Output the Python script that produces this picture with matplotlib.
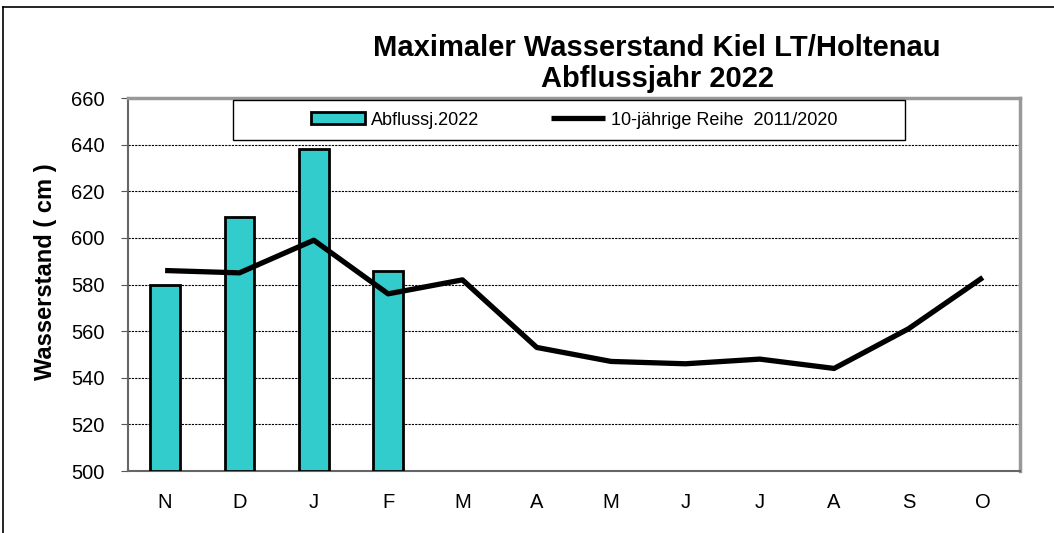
import matplotlib
matplotlib.use("Agg")
import matplotlib.pyplot as plt
from matplotlib.lines import Line2D
from matplotlib.patches import Rectangle
import numpy as np

plt.rcParams['font.family'] = ['Liberation Sans', 'DejaVu Sans']

months = ["N", "D", "J", "F", "M", "A", "M", "J", "J", "A", "S", "O"]
abfluss_2022 = [580, 609, 638, 586]
reihe_10j = [586, 585, 599, 576, 582, 553, 547, 546, 548, 544, 561, 583]
yticks = [500, 520, 540, 560, 580, 600, 620, 640, 660]

fig = plt.figure(figsize=(10.54, 5.33), dpi=100)
ax = fig.add_axes([0.1214, 0.1163, 0.8463, 0.6998])

x = np.arange(len(months))
bars = ax.bar(x[:len(abfluss_2022)], np.array(abfluss_2022) - 500, bottom=500, width=0.4,
              color="#33CCCC", edgecolor="black", linewidth=2, zorder=3)
line, = ax.plot(x, reihe_10j, color="black", linewidth=3.8, zorder=4,
                solid_capstyle="butt")

ax.set_xlim(-0.5, len(months) - 0.5)
ax.set_ylim(500, 660)
ax.set_yticks(yticks)
ax.set_xticks(x)
ax.set_xticklabels(months)
ax.tick_params(axis="both", labelsize=14.5, length=5, color="#555555")
ax.tick_params(axis="y", pad=12)
ax.tick_params(axis="x", length=0, pad=16)
ax.yaxis.grid(True, linestyle=(0, (2, 1)), color="black", linewidth=0.8, zorder=0)
for s in ["left", "bottom"]:
    ax.spines[s].set_color("#666666")
    ax.spines[s].set_linewidth(1.5)
for s in ["right", "top"]:
    ax.spines[s].set_color("#999999")
    ax.spines[s].set_linewidth(2.5)

ax.set_ylabel("Wasserstand ( cm )", fontsize=17, fontweight="bold")
ax.yaxis.set_label_coords(-0.08, 0.534)

fig.text(0.6235, 0.881, "Maximaler Wasserstand Kiel LT/Holtenau\nAbflussjahr 2022",
         ha="center", va="center", fontsize=21, fontweight="bold", linespacing=1.12)

# legend box
ax.add_patch(Rectangle((0.1177, 0.8874), 0.7534, 0.1072, transform=ax.transAxes,
                       facecolor="white", edgecolor="black", linewidth=1, zorder=5,
                       clip_on=False))
leg = ax.legend([bars, line], ["Abflussj.2022", "10-jährige Reihe  2011/2020"],
                loc="center left", bbox_to_anchor=((311 - 128) / 892, (471 - 120) / 373),
                ncol=2, fontsize=13, frameon=False, borderpad=0, borderaxespad=0,
                handlelength=3.0, handleheight=0.6, handletextpad=0.3, columnspacing=4.0)
leg.set_zorder(6)

# outer border
fig.add_artist(Line2D([3 / 1054, 3 / 1054], [0, 1 - 7 / 533], color="black", linewidth=1.2,
                      transform=fig.transFigure))
fig.add_artist(Line2D([3 / 1054, 1], [1 - 7 / 533, 1 - 7 / 533], color="black", linewidth=1.2,
                      transform=fig.transFigure))

fig.savefig("out.png", dpi=100)
